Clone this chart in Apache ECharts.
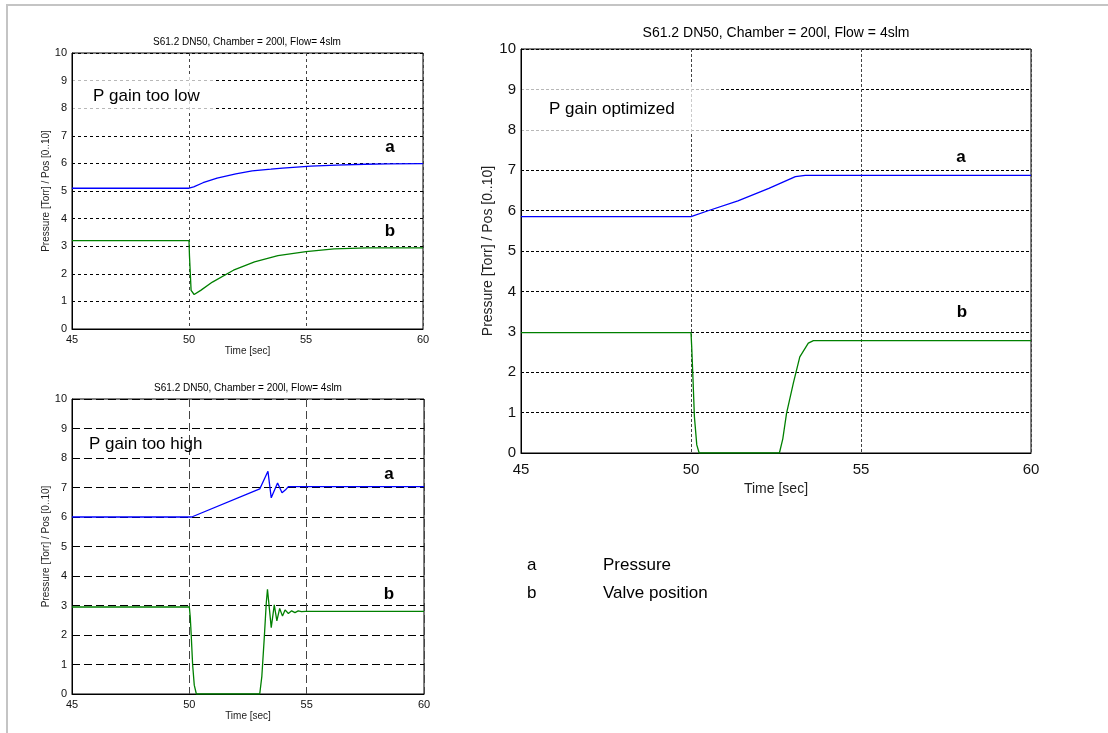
<!DOCTYPE html>
<html>
<head>
<meta charset="utf-8">
<title>P gain tuning</title>
<script src="https://cdn.jsdelivr.net/npm/echarts@6/dist/echarts.min.js"></script>
<style>
  html, body { margin: 0; padding: 0; background: #fff; }
  #chart { width: 1108px; height: 733px; }
</style>
</head>
<body>
<div id="chart"></div>
<script>
// chart 1: P gain too low
var lowPresT = [45, 50, 50.2, 50.6, 51.2, 52.0, 52.7, 53.5, 54.0, 55.2, 56.3, 57.5, 58.5, 60];
var lowPres  = [5.1, 5.1, 5.15, 5.3, 5.47, 5.62, 5.73, 5.79, 5.83, 5.9, 5.94, 5.97, 5.98, 5.99];
var lowValveT = [45, 50, 50.02, 50.06, 50.09, 50.22, 50.5, 51, 51.9, 52.8, 53.8, 55, 56.2, 57.6, 60];
var lowValve  = [3.2, 3.2, 2.65, 2.6, 1.4, 1.25, 1.4, 1.7, 2.13, 2.43, 2.66, 2.8, 2.9, 2.94, 2.94];

// chart 2: P gain too high
var highPresT = [45, 50.1, 53.0, 53.35, 53.49, 53.76, 53.95, 54.1, 54.22, 60];
var highPres  = [6.0, 6.0, 6.95, 7.55, 6.65, 7.15, 6.82, 6.92, 7.03, 7.03];
var highValveT = [45, 50, 50.04, 50.08, 50.14, 50.21, 50.3, 53.0, 53.09, 53.19, 53.28, 53.33, 53.49, 53.62,
                  53.73, 53.85, 53.97, 54.08, 54.22, 54.36, 54.5, 54.64, 54.78, 54.95, 60];
var highValve  = [2.95, 2.95, 2.6, 2.0, 1.0, 0.3, 0, 0, 0.6, 1.86, 3.1, 3.55, 2.25, 3.02,
                  2.48, 2.9, 2.64, 2.85, 2.73, 2.82, 2.76, 2.82, 2.79, 2.8, 2.8];

// chart 3: P gain optimized
var optPresT = [45, 50, 50.48, 51.38, 52.29, 53.07, 53.36, 60];
var optPres  = [5.85, 5.85, 5.99, 6.24, 6.55, 6.84, 6.87, 6.87];
var optValveT = [45, 50, 50.02, 50.06, 50.1, 50.17, 50.24, 52.6, 52.7, 52.81, 53.01, 53.2, 53.45, 53.6, 60];
var optValve  = [2.98, 2.98, 2.64, 1.8, 0.9, 0.2, 0, 0, 0.35, 0.98, 1.73, 2.38, 2.72, 2.78, 2.78];

var titleText = 'S61.2 DN50, Chamber = 200l, Flow= 4slm';
var titleTextBig = 'S61.2 DN50, Chamber = 200l, Flow = 4slm';
var yName = 'Pressure [Torr] / Pos [0..10]';
var xName = 'Time [sec]';

var FONT = '"Liberation Sans", Arial, sans-serif';

function pairs(xs, ys) {
    var d = [];
    for (var i = 0; i < xs.length; i++) {
        d.push([xs[i], ys[i]]);
    }
    return d;
}

function makeX(idx, fs, gap, margin, dash, vColor) {
    return {
        gridIndex: idx, type: 'value', min: 45, max: 60, interval: 5,
        name: xName, nameLocation: 'middle', nameGap: gap,
        nameTextStyle: {fontFamily: FONT, fontSize: fs, color: '#222'},
        axisLine: {show: true, lineStyle: {color: '#000', width: 1}},
        axisTick: {show: false},
        axisLabel: {fontFamily: FONT, fontSize: fs + 1, color: '#111', margin: margin},
        splitLine: {show: true, lineStyle: {color: vColor, width: 1, type: dash}}
    };
}

function makeY(idx, fs, gap, margin, dash) {
    return {
        gridIndex: idx, type: 'value', min: 0, max: 10, interval: 1,
        name: yName, nameLocation: 'middle', nameGap: gap,
        nameTextStyle: {fontFamily: FONT, fontSize: fs, color: '#222'},
        axisLine: {show: true, lineStyle: {color: '#000', width: 1}},
        axisTick: {show: false},
        axisLabel: {fontFamily: FONT, fontSize: fs + 1, color: '#111', margin: margin},
        splitLine: {show: true, lineStyle: {color: '#000', width: 1, type: dash}}
    };
}

function line(idx, data, color) {
    return {
        type: 'line', xAxisIndex: idx, yAxisIndex: idx,
        data: data, showSymbol: false, symbol: 'none', smooth: false,
        lineStyle: {color: color, width: 1.3},
        itemStyle: {color: color},
        silent: true
    };
}

function txt(x, y, s, font, align) {
    return {
        type: 'text', x: x, y: y, z: 100,
        style: {
            text: s, font: font, fill: '#000',
            align: align || 'left', verticalAlign: 'middle',
            textAlign: align || 'left', textVerticalAlign: 'middle'
        }
    };
}

function veil(x, y, w, h) {
    return {
        type: 'rect', z: 50, silent: true,
        shape: {x: x, y: y, width: w, height: h},
        style: {fill: 'rgba(255,255,255,0.72)'}
    };
}

var option = {
    animation: false,
    backgroundColor: '#fff',
    grid: [
        {left: 72, top: 53, width: 351, height: 276, show: true, borderColor: '#000', borderWidth: 1},
        {left: 72, top: 399, width: 352, height: 295, show: true, borderColor: '#000', borderWidth: 1},
        {left: 521, top: 49, width: 510, height: 404, show: true, borderColor: '#000', borderWidth: 1}
    ],
    xAxis: [
        makeX(0, 10, 17, 5, [3, 3], '#444'),
        makeX(1, 10, 17, 5, [8, 4], '#444'),
        makeX(2, 14, 25, 9, [3, 2], '#444')
    ],
    yAxis: [
        makeY(0, 10, 19, 5, [3, 3]),
        makeY(1, 10, 19, 5, [8, 4]),
        makeY(2, 14, 26, 5, [3, 2])
    ],
    series: [
        line(0, pairs(lowPresT, lowPres), '#0000ff'),
        line(0, pairs(lowValveT, lowValve), '#008000'),
        line(1, pairs(highPresT, highPres), '#0000ff'),
        line(1, pairs(highValveT, highValve), '#008000'),
        line(2, pairs(optPresT, optPres), '#0000ff'),
        line(2, pairs(optValveT, optValve), '#008000')
    ],
    graphic: [
        {
            type: 'polyline', z: 1, silent: true,
            shape: {points: [[7, 733], [7, 5], [1108, 5]]},
            style: {stroke: '#c4c4c4', lineWidth: 2, fill: null}
        },
        veil(73, 76, 141, 36),
        veil(522, 84, 198, 50),
        // titles
        txt(247, 42, titleText, '10px ' + FONT, 'center'),
        txt(248, 388, titleText, '10px ' + FONT, 'center'),
        txt(776, 33, titleTextBig, '14px ' + FONT, 'center'),
        // panel captions
        txt(93, 96, 'P gain too low', '17px ' + FONT),
        txt(89, 444, 'P gain too high', '17px ' + FONT),
        txt(549, 109, 'P gain optimized', '17px ' + FONT),
        // curve marks
        txt(390, 147, 'a', 'bold 17px ' + FONT, 'center'),
        txt(390, 231, 'b', 'bold 17px ' + FONT, 'center'),
        txt(389, 474, 'a', 'bold 17px ' + FONT, 'center'),
        txt(389, 594, 'b', 'bold 17px ' + FONT, 'center'),
        txt(961, 157, 'a', 'bold 17px ' + FONT, 'center'),
        txt(962, 312, 'b', 'bold 17px ' + FONT, 'center'),
        // key
        txt(527, 565, 'a', '17px ' + FONT),
        txt(603, 565, 'Pressure', '17px ' + FONT),
        txt(527, 593, 'b', '17px ' + FONT),
        txt(603, 593, 'Valve position', '17px ' + FONT)
    ]
};

var myChart = echarts.init(document.getElementById('chart'));
myChart.setOption(option);
</script>
</body>
</html>
